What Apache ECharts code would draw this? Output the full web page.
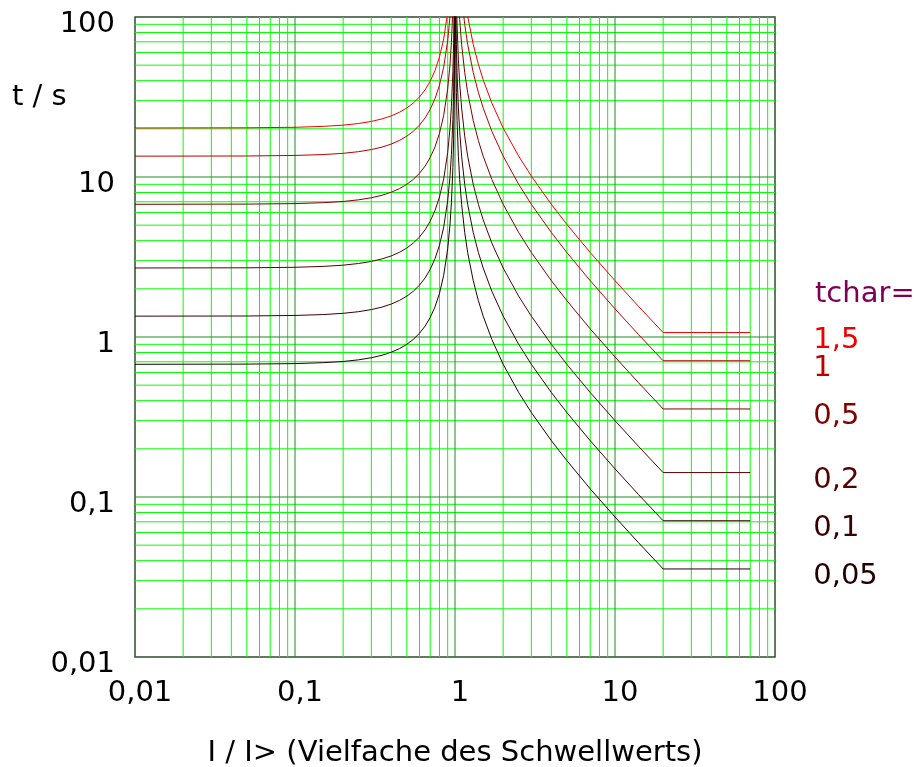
<!DOCTYPE html>
<html>
<head>
<meta charset="utf-8">
<script src="https://cdn.jsdelivr.net/npm/echarts@6/dist/echarts.min.js"></script>
<style>
  html, body { margin: 0; padding: 0; background: #fff; }
  #chart { width: 914px; height: 767px; }
</style>
</head>
<body>
<div id="chart"></div>
<script>
// Achsen
const xTickLabels = ['0,01', '0,1', '1', '10', '100']
const yTickLabels = ['0,01', '0,1', '1', '10', '100']
const decades = [0.01, 0.1, 1, 10]
const minorSteps = [2, 3, 4, 5, 6, 7, 8, 9]
const majorGrid = [0.1, 1, 10]

// I / I> Stützstellen (links und rechts vom Schwellwert)
const curveX = [
  0.01, 0.05, 0.1, 0.15, 0.2, 0.25, 0.3, 0.35, 0.4, 0.45, 0.5, 0.55, 0.6, 0.65, 0.7, 0.75, 0.8, 0.85, 0.9, 0.93, 0.95, 0.97, 0.98, 0.99, 0.995, 0.998,
  1.002, 1.005, 1.01, 1.02, 1.03, 1.05, 1.07, 1.1, 1.15, 1.2, 1.3, 1.4, 1.5, 1.7, 2, 2.5, 3, 4, 5, 7, 10, 14, 20, 70
]

// t / s je Kennlinie
const tchar15 = [
  20.25, 20.30, 20.45, 20.72, 21.09, 21.60, 22.25, 23.08, 24.11, 25.39, 27.00, 29.03, 31.64, 35.06, 39.71, 46.29, 56.25, 72.97, 106.6, 149.9, 207.7, 342.6, 511.4, 1018, 2030, 5067,
  10125, 4050, 2025, 1013, 675, 405, 289.3, 202.5, 135, 101.3, 67.5, 50.63, 40.5, 28.93, 20.25, 13.5, 10.13, 6.75, 5.06, 3.375, 2.25, 1.557, 1.066, 1.066
]
const tchar1 = [
  13.50, 13.53, 13.64, 13.81, 14.06, 14.40, 14.84, 15.38, 16.07, 16.93, 18.00, 19.35, 21.09, 23.38, 26.47, 30.86, 37.50, 48.65, 71.05, 99.93, 138.5, 228.4, 340.9, 678.4, 1353, 3378,
  6750, 2700, 1350, 675, 450, 270, 192.9, 135, 90, 67.5, 45, 33.75, 27, 19.29, 13.5, 9, 6.75, 4.5, 3.375, 2.25, 1.5, 1.038, 0.7105, 0.7105
]
const tchar05 = [
  6.75, 6.77, 6.82, 6.91, 7.03, 7.20, 7.42, 7.69, 8.04, 8.46, 9.00, 9.68, 10.55, 11.69, 13.24, 15.43, 18.75, 24.32, 35.53, 49.96, 69.23, 114.2, 170.5, 339.2, 676.5, 1689,
  3375, 1350, 675, 337.5, 225, 135, 96.4, 67.5, 45, 33.75, 22.5, 16.88, 13.5, 9.64, 6.75, 4.5, 3.375, 2.25, 1.688, 1.125, 0.75, 0.519, 0.355, 0.355
]
const tchar02 = [
  2.70, 2.707, 2.727, 2.762, 2.812, 2.88, 2.967, 3.077, 3.214, 3.386, 3.60, 3.871, 4.219, 4.675, 5.294, 6.171, 7.50, 9.73, 14.21, 19.99, 27.69, 45.68, 68.18, 135.7, 270.6, 675.6,
  1350, 540, 270, 135, 90, 54, 38.57, 27, 18, 13.5, 9, 6.75, 5.4, 3.857, 2.7, 1.8, 1.35, 0.9, 0.675, 0.45, 0.3, 0.2077, 0.1421, 0.1421
]
const tchar01 = [
  1.35, 1.353, 1.364, 1.381, 1.406, 1.44, 1.484, 1.538, 1.607, 1.693, 1.80, 1.935, 2.109, 2.338, 2.647, 3.086, 3.75, 4.865, 7.105, 9.993, 13.85, 22.84, 34.09, 67.84, 135.3, 337.8,
  675, 270, 135, 67.5, 45, 27, 19.29, 13.5, 9, 6.75, 4.5, 3.375, 2.7, 1.929, 1.35, 0.9, 0.675, 0.45, 0.3375, 0.225, 0.15, 0.1038, 0.07105, 0.07105
]
const tchar005 = [
  0.675, 0.677, 0.682, 0.691, 0.703, 0.72, 0.742, 0.769, 0.804, 0.846, 0.90, 0.968, 1.055, 1.169, 1.324, 1.543, 1.875, 2.432, 3.553, 4.996, 6.923, 11.42, 17.05, 33.92, 67.65, 168.9,
  337.5, 135, 67.5, 33.75, 22.5, 13.5, 9.64, 6.75, 4.5, 3.375, 2.25, 1.688, 1.35, 0.964, 0.675, 0.45, 0.3375, 0.225, 0.169, 0.1125, 0.075, 0.0519, 0.0355, 0.0355
]

const tcharLabels = ['1,5', '1', '0,5', '0,2', '0,1', '0,05']
const curves = [tchar15, tchar1, tchar05, tchar02, tchar01, tchar005]
const curveColors = ['#ee0000', '#bb0000', '#800000', '#550000', '#3a0000', '#220000']

const FONT = 'DejaVu Sans'
const FS = 29

const minorGrid = []
decades.forEach(d => minorSteps.forEach(m => minorGrid.push(d * m)))

function tickText(labels, rich) {
  return v => {
    const s = labels[Math.round(Math.log10(v)) + 2] || ''
    return rich ? '{t|' + s + '}' : s
  }
}

// Gitterlinien als custom series, damit sie über die Log-Achsen positioniert werden
function gridLines(values, color, z, horizontal) {
  return {
    type: 'custom',
    silent: true,
    z: z,
    data: values.map(v => horizontal ? [1, v] : [v, 1]),
    renderItem: (params, api) => {
      let p1, p2
      if (horizontal) {
        const v = api.value(1)
        p1 = api.coord([0.01, v])
        p2 = api.coord([100, v])
      } else {
        const v = api.value(0)
        p1 = api.coord([v, 0.01])
        p2 = api.coord([v, 100])
      }
      return {
        type: 'line',
        shape: { x1: p1[0], y1: p1[1], x2: p2[0], y2: p2[1] },
        style: { stroke: color, lineWidth: 1 }
      }
    }
  }
}

const chart = echarts.init(document.getElementById('chart'))

const series = [
  gridLines(minorGrid, '#00ff00', 1, false),
  gridLines(minorGrid, '#00ff00', 1, true),
  gridLines(majorGrid, '#1f8a1f', 2, false),
  gridLines(majorGrid, '#1f8a1f', 2, true)
]

curves.forEach((t, i) => {
  series.push({
    type: 'line',
    data: curveX.map((x, k) => [x, t[k]]),
    showSymbol: false,
    clip: true,
    z: 3,
    lineStyle: { color: curveColors[i], width: 1 },
    endLabel: {
      show: true,
      formatter: tcharLabels[i],
      color: curveColors[i],
      fontFamily: FONT,
      fontSize: FS,
      distance: 0,
      offset: [63, 8]
    }
  })
})

chart.setOption({
  animation: false,
  textStyle: { fontFamily: FONT },
  grid: {
    left: 135, top: 17, width: 640, height: 640,
    outerBoundsMode: 'none',
    containLabel: false,
    show: true,
    borderColor: '#2e4e2e',
    borderWidth: 1.5,
    backgroundColor: 'transparent'
  },
  xAxis: {
    type: 'log',
    logBase: 10,
    min: 0.01,
    max: 100,
    axisLine: { show: false },
    axisTick: { show: false },
    splitLine: { show: false },
    axisLabel: {
      formatter: tickText(xTickLabels, true),
      color: '#000',
      fontFamily: FONT,
      fontSize: FS,
      margin: 22,
      rich: {
        t: { color: '#000', fontFamily: FONT, fontSize: FS, padding: [0, 0, 0, 10] }
      },
      showMinLabel: true,
      showMaxLabel: true
    },
    name: 'I / I> (Vielfache des Schwellwerts)',
    nameLocation: 'middle',
    nameGap: 82,
    nameTextStyle: { color: '#000', fontFamily: FONT, fontSize: FS }
  },
  yAxis: {
    type: 'log',
    logBase: 10,
    min: 0.01,
    max: 100,
    axisLine: { show: false },
    axisTick: { show: false },
    splitLine: { show: false },
    axisLabel: {
      formatter: tickText(yTickLabels, false),
      color: '#000',
      fontFamily: FONT,
      fontSize: FS,
      margin: 20,
      verticalAlign: 'top',
      lineHeight: 14,
      showMinLabel: true,
      showMaxLabel: true
    }
  },
  graphic: [
    {
      type: 'text', left: 12, top: 83,
      style: { text: 't / s', fill: '#000', font: FS + 'px "DejaVu Sans"' }
    },
    {
      type: 'text', left: 815, top: 280,
      style: { text: 'tchar=', fill: '#800055', font: FS + 'px "DejaVu Sans"' }
    }
  ],
  series: series
})
</script>
</body>
</html>
